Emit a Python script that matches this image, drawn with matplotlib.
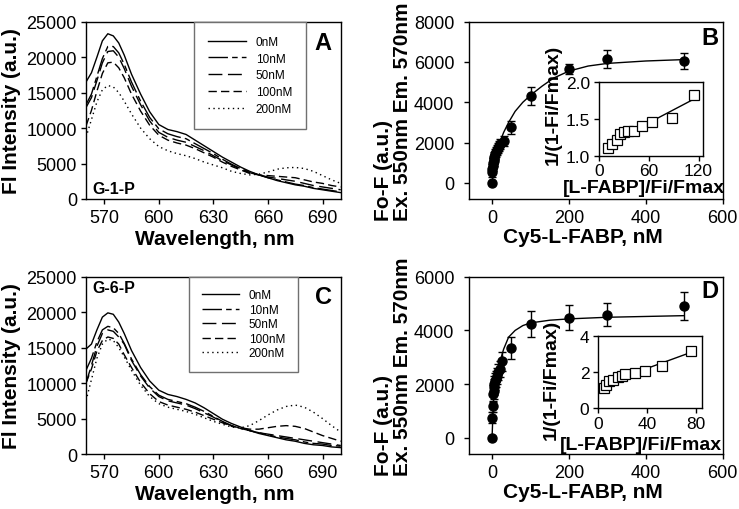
import numpy as np
import matplotlib
matplotlib.use("Agg")
import matplotlib.pyplot as plt

plt.rcParams['font.family'] = ['Liberation Sans', 'DejaVu Sans']

# ---------------- data ----------------
wl = [560, 563, 566, 569, 572, 575, 578, 581, 585, 590, 595, 600, 605, 610, 615, 620,
      625, 630, 635, 640, 645, 650, 655, 660, 665, 670, 675, 680, 685, 690, 695, 700]
conc_labels = ["0nM", "10nM", "50nM", "100nM", "200nM"]

# Panel A (G-1-P), values in thousands
a_0 = [16.5, 17.8, 20.0, 22.3, 23.3, 23.0, 22.0, 20.3, 17.6, 14.8, 12.3, 10.5, 9.8, 9.5, 9.1, 8.3,
       7.5, 6.7, 5.9, 5.2, 4.5, 3.9, 3.4, 3.0, 2.6, 2.3, 2.0, 1.8, 1.5, 1.3, 1.1, 0.9]
a_10 = [13.3, 14.8, 17.3, 19.8, 21.5, 21.5, 20.6, 19.0, 16.5, 13.8, 11.5, 9.9, 9.2, 8.8, 8.5, 7.8,
        7.1, 6.4, 5.6, 4.9, 4.3, 3.8, 3.4, 3.0, 2.7, 2.4, 2.1, 1.9, 1.6, 1.4, 1.2, 1.0]
a_50 = [12.9, 14.3, 16.7, 19.2, 20.8, 20.9, 20.0, 18.4, 15.9, 13.3, 11.0, 9.4, 8.7, 8.3, 8.0, 7.4,
        6.8, 6.1, 5.4, 4.8, 4.2, 3.7, 3.4, 3.1, 2.9, 2.7, 2.5, 2.2, 1.9, 1.7, 1.5, 1.3]
a_100 = [10.3, 12.5, 15.2, 17.7, 19.2, 19.3, 18.5, 17.1, 14.8, 12.4, 10.4, 9.0, 8.3, 7.9, 7.6, 7.1,
         6.5, 5.9, 5.2, 4.6, 4.1, 3.6, 3.4, 3.3, 3.2, 3.1, 3.0, 2.7, 2.4, 2.2, 1.9, 1.7]
a_200 = [8.7, 11.2, 13.7, 15.4, 16.0, 15.8, 15.0, 13.8, 12.0, 10.0, 8.5, 7.4, 6.8, 6.4, 6.1, 5.7,
         5.2, 4.8, 4.4, 3.9, 3.6, 3.4, 3.5, 3.8, 4.2, 4.4, 4.45, 4.3, 3.9, 3.3, 2.7, 2.2]

# Panel C (G-6-P), values in thousands
c_0 = [14.8, 15.5, 17.5, 19.3, 19.9, 19.7, 18.6, 17.0, 14.6, 12.2, 10.3, 9.0, 8.4, 8.1, 7.7, 7.2,
       6.5, 5.7, 4.9, 4.3, 3.8, 3.3, 2.9, 2.6, 2.3, 2.0, 1.8, 1.5, 1.3, 1.2, 1.0, 0.9]
c_10 = [11.8, 13.5, 15.8, 17.5, 18.0, 17.8, 17.0, 15.6, 13.4, 11.2, 9.5, 8.3, 7.7, 7.4, 7.1, 6.6,
        6.0, 5.3, 4.6, 4.0, 3.6, 3.3, 3.0, 2.7, 2.4, 2.2, 2.0, 1.7, 1.5, 1.4, 1.2, 1.1]
c_50 = [10.0, 12.5, 15.2, 17.0, 17.5, 17.3, 16.5, 15.5, 13.2, 11.0, 9.3, 8.1, 7.5, 7.2, 6.9, 6.4,
        5.8, 5.2, 4.5, 4.0, 3.6, 3.3, 3.0, 2.8, 2.6, 2.4, 2.2, 2.0, 1.8, 1.6, 1.4, 1.2]
c_100 = [10.0, 12.0, 14.5, 16.0, 16.5, 16.3, 15.5, 14.0, 12.2, 10.1, 8.5, 7.4, 6.9, 6.6, 6.3, 5.9,
         5.4, 4.9, 4.4, 3.9, 3.7, 3.5, 3.5, 3.7, 3.9, 4.0, 3.9, 3.6, 3.1, 2.6, 2.2, 1.8]
c_200 = [7.5, 10.5, 13.5, 15.5, 16.2, 16.0, 15.0, 13.7, 11.8, 9.7, 8.1, 7.1, 6.6, 6.3, 6.0, 5.6,
         5.1, 4.6, 4.2, 3.8, 3.7, 4.0, 4.7, 5.5, 6.2, 6.7, 6.9, 6.6, 5.9, 5.0, 4.0, 3.1]

# Panel B titration
b_x = [0, 0.5, 1, 2, 3, 4, 5, 6, 8, 10, 12, 15, 18, 20, 30, 50, 100, 200, 300, 500]
b_y = [0, 550, 700, 850, 1000, 1100, 1200, 1300, 1450, 1550, 1650, 1750, 1850, 1950, 2100,
       2750, 4300, 5650, 6150, 6050]
b_err = [0, 250, 250, 250, 250, 250, 250, 250, 250, 250, 250, 250, 250, 250, 250,
         300, 450, 250, 450, 380]
b_fit_x = [0, 5, 10, 15, 20, 30, 43, 60, 80, 100, 130, 160, 200, 250, 300, 400, 500]
b_fit_y = [0, 700, 1200, 1650, 2000, 2500, 3000, 3550, 4000, 4350, 4800, 5200, 5550, 5800,
           5930, 6050, 6120]
b_in_x = [10, 15, 21, 25, 30, 35, 42, 52, 64, 88, 115]
b_in_y = [1.10, 1.16, 1.22, 1.30, 1.32, 1.33, 1.33, 1.41, 1.46, 1.52, 1.83]

# Panel D titration
d_x = [0, 1, 2, 3, 4, 5, 6, 8, 10, 12, 15, 20, 25, 50, 100, 200, 300, 500]
d_y = [0, 750, 1180, 1650, 1750, 1900, 2000, 2100, 2200, 2300, 2450, 2550, 2850, 3350,
       4250, 4480, 4580, 4900]
d_err = [0, 200, 200, 300, 300, 300, 300, 300, 300, 300, 300, 300, 350, 400,
         480, 480, 430, 530]
d_fit_x = [0, 3, 5, 10, 15, 20, 30, 43, 60, 80, 100, 150, 200, 300, 400, 500]
d_fit_y = [0, 1200, 1700, 2200, 2550, 2800, 3300, 3750, 4000, 4180, 4280, 4380, 4430, 4490,
           4520, 4550]
d_in_x = [5, 6, 9, 12, 16, 19, 22, 30, 38, 52, 76]
d_in_y = [1.15, 1.30, 1.50, 1.60, 1.75, 1.82, 1.90, 1.98, 2.05, 2.35, 3.20]

# ---------------- styling ----------------
W, H = 739, 510
styles = ['-', (0, (14, 3, 4, 3)), (0, (10, 4)), (0, (6, 3)), (0, (1, 2.5))]


def rect(l, t, r, b):
    return [l / W, 1 - b / H, (r - l) / W, (b - t) / H]


def style_axes(ax, fs=13):
    for s in ax.spines.values():
        s.set_linewidth(1.0)
        s.set_color('black')
    ax.tick_params(direction='out', length=3.5, width=1, labelsize=fs, pad=3)
    ax.tick_params(axis='x', pad=3.5)


fig = plt.figure(figsize=(W / 100, H / 100), dpi=100)

ax_a = fig.add_axes(rect(86, 22.7, 340.7, 200))
ax_c = fig.add_axes(rect(86, 277.7, 340.7, 455))
ax_b = fig.add_axes(rect(469, 22.7, 722.7, 200))
ax_d = fig.add_axes(rect(469, 277.7, 722.7, 455))
in_b = fig.add_axes(rect(599.3, 83.3, 702.7, 156.7))
in_d = fig.add_axes(rect(598.3, 337.3, 702.3, 409.3))

wl_arr = np.array(wl)
for ax, series, tag, tag_y, leg_x, lsp, bpad in [
        (ax_a, [a_0, a_10, a_50, a_100, a_200], "G-1-P", 0.06, 0.425, 0.40, 1.2),
        (ax_c, [c_0, c_10, c_50, c_100, c_200], "G-6-P", 0.94, 0.405, 0.22, 1.05)]:
    for vals, ls, lab in zip(series, styles, conc_labels):
        ax.plot(wl_arr, np.array(vals) * 1000, color='black', lw=1.0, linestyle=ls, label=lab)
    ax.set_xlim(560, 700)
    ax.set_ylim(0, 25000)
    ax.set_xticks([570, 600, 630, 660, 690])
    ax.set_yticks([0, 5000, 10000, 15000, 20000, 25000])
    style_axes(ax)
    ax.set_xlabel("Wavelength, nm", fontsize=15, fontweight='bold')
    ax.set_ylabel("Fl Intensity (a.u.)", fontsize=15, fontweight='bold')
    ax.xaxis.label.set_va('center')
    ax.yaxis.label.set_va('center')
    ax.xaxis.set_label_coords(0.506, -0.225)
    ax.yaxis.set_label_coords(-0.292, 0.5)
    ax.text(0.025, tag_y, tag, transform=ax.transAxes, fontsize=11.5, fontweight='bold',
            ha='left', va='center')
    leg = ax.legend(loc='upper left', bbox_to_anchor=(leg_x, 1.0), borderaxespad=0,
                    fontsize=8.5, labelspacing=lsp, handlelength=3.2, handletextpad=0.8,
                    borderpad=bpad, fancybox=False, edgecolor='#707070', framealpha=1)
    leg.get_frame().set_linewidth(1.0)

for ax, xs, ys, es, fx, fy, ylim, yt in [
        (ax_b, b_x, b_y, b_err, b_fit_x, b_fit_y, (-800, 8000), [0, 2000, 4000, 6000, 8000]),
        (ax_d, d_x, d_y, d_err, d_fit_x, d_fit_y, (-600, 6000), [0, 2000, 4000, 6000])]:
    ax.plot(fx, fy, color='black', lw=1.0, zorder=2)
    ax.errorbar(xs, ys, yerr=es, fmt='o', color='black', ms=6.5, capsize=3.2,
                elinewidth=1, capthick=1, zorder=3)
    ax.set_xlim(-60, 600)
    ax.set_ylim(*ylim)
    ax.set_xticks([0, 200, 400, 600])
    ax.set_yticks(yt)
    style_axes(ax)
    ax.tick_params(axis='y', pad=7)
    ax.set_xlabel("Cy5-L-FABP, nM", fontsize=15, fontweight='bold')
    ax.xaxis.label.set_va('center')
    ax.xaxis.set_label_coords(0.449, -0.21)
    ax.set_ylabel("Fo-F (a.u.)\nEx. 550nm Em. 570nm", fontsize=15, fontweight='bold',
                  multialignment='left', linespacing=1.0)
    ax.yaxis.label.set_va('center')
    ax.yaxis.set_label_coords(-0.30, 0.5)

for ax, xs, ys, xlim, xt, ylim, yt, xl_c, yl_c in [
        (in_b, b_in_x, b_in_y, (0, 125), [0, 60, 120], (1.0, 2.0), [1.0, 1.5, 2.0],
         (0.432, -0.43), (-0.445, 0.70)),
        (in_d, d_in_x, d_in_y, (0, 85), [0, 40, 80], (0, 4), [0, 2, 4],
         (0.41, -0.50), (-0.448, 0.41))]:
    ax.patch.set_alpha(0)
    coef = np.polyfit(xs, ys, 1)
    lx = np.array([min(xs), max(xs)])
    ax.plot(lx, np.polyval(coef, lx), color='black', lw=1.0)
    ax.plot(xs, ys, linestyle='none', marker='s', ms=7.5, mfc='white', mec='black', mew=0.9)
    ax.set_xlim(*xlim)
    ax.set_ylim(*ylim)
    ax.set_xticks(xt)
    ax.set_yticks(yt)
    style_axes(ax, fs=12.5)
    ax.tick_params(axis='x', pad=2)
    ax.set_xlabel("[L-FABP]/Fi/Fmax", fontsize=14, fontweight='bold')
    ax.set_ylabel("1/(1-Fi/Fmax)", fontsize=14, fontweight='bold')
    ax.xaxis.label.set_va('center')
    ax.yaxis.label.set_va('center')
    ax.xaxis.set_label_coords(*xl_c)
    ax.yaxis.set_label_coords(*yl_c)

in_b.yaxis.set_major_formatter(matplotlib.ticker.FormatStrFormatter('%.1f'))

for letter, px, py in [("A", 323, 43), ("B", 710, 39), ("C", 323, 298), ("D", 710, 292)]:
    fig.text(px / W, 1 - py / H, letter, fontsize=17, fontweight='bold', ha='center', va='center')

fig.savefig("out.png", dpi=100)
